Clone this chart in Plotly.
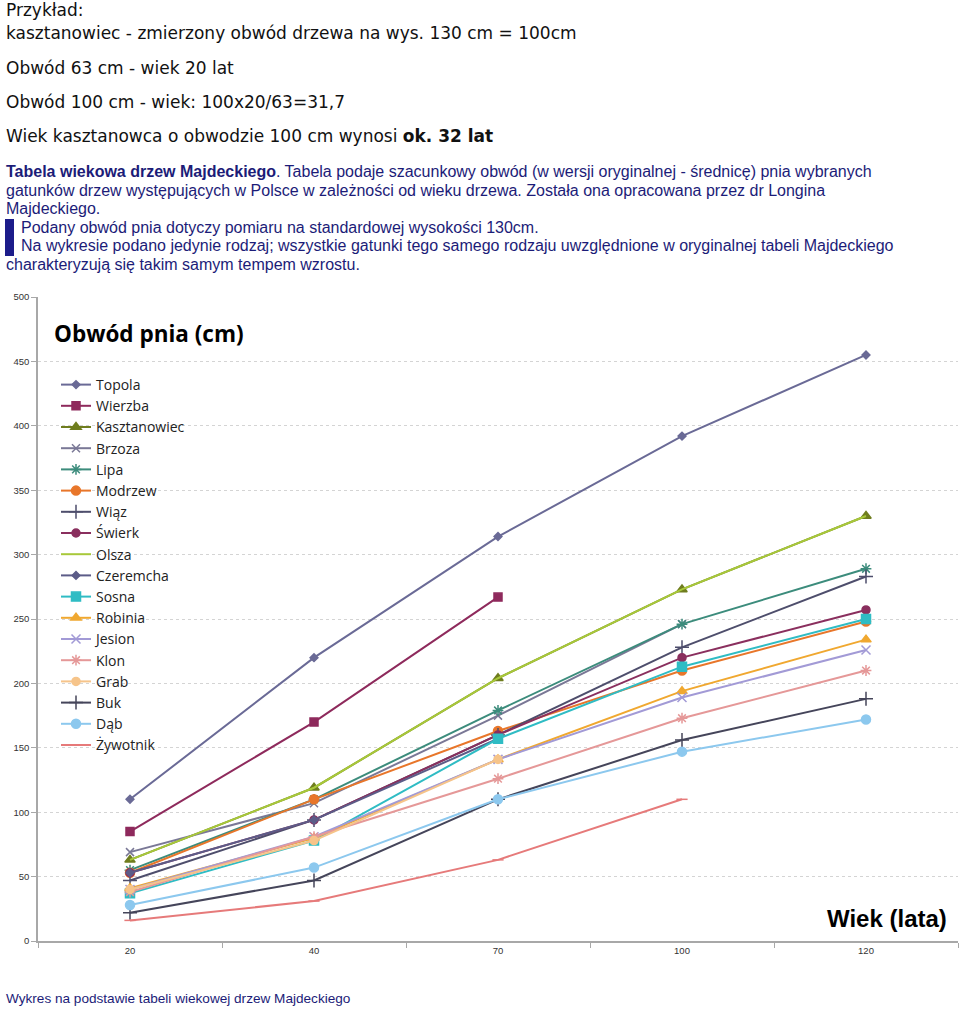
import plotly.graph_objects as go

ages = ["20", "40", "70", "100", "120"]

topola = [110, 220, 314, 392, 455]
wierzba = [85, 170, 267, None, None]
kasztanowiec = [63, 119, 204, 273, 330]
brzoza = [69, 107, 175, 246, None]
lipa = [55, 110, 179, 246, 289]
modrzew = [53, 110, 163, 210, 248]
wiaz = [47, 94, 160, 228, 283]
swierk = [53, 94, 160, 220, 257]
olsza = [63, 119, 204, 273, 330]
czeremcha = [53, 94, 157, None, None]
sosna = [37, 78, 157, 213, 250]
robinia = [41, 80, 141, 194, 234]
jesion = [40, 81, 141, 189, 226]
klon = [38, 81, 126, 173, 210]
grab = [40, 78, 141, None, None]
buk = [22, 47, 110, 156, 188]
dab = [28, 57, 110, 147, 172]
zywotnik = [16, 31, 63, 110, None]

series = [
    ("Topola", topola, "#6a6a96", "diamond", 6),
    ("Wierzba", wierzba, "#8e2a5c", "square", 8),
    ("Kasztanowiec", kasztanowiec, "#6f7d1e", "triangle-up", 9),
    ("Brzoza", brzoza, "#7a7896", "x-thin-open", 8),
    ("Lipa", lipa, "#3c8c7c", "asterisk-open", 9),
    ("Modrzew", modrzew, "#e8762a", "circle", 9),
    ("Wiąz", wiaz, "#4e4e6c", "cross-thin-open", 10),
    ("Świerk", swierk, "#8a2f5e", "circle", 8),
    ("Olsza", olsza, "#a8c83a", None, 0),
    ("Czeremcha", czeremcha, "#5c5c88", "diamond", 6),
    ("Sosna", sosna, "#2fbcc4", "square", 9),
    ("Robinia", robinia, "#f0a830", "triangle-up", 9),
    ("Jesion", jesion, "#a29ad6", "x-thin-open", 9),
    ("Klon", klon, "#e59898", "asterisk-open", 9),
    ("Grab", grab, "#f6c48a", "circle", 8),
    ("Buk", buk, "#45455a", "cross-thin-open", 10),
    ("Dąb", dab, "#8cc8ee", "circle", 9),
    ("Żywotnik", zywotnik, "#e67a7a", "line-ew-open", 8),
]

fig = go.Figure()
for name, vals, col, sym, size in series:
    if sym is None:
        mode = "lines"
        marker = dict()
    else:
        mode = "lines+markers"
        marker = dict(symbol=sym, size=size, color=col, line=dict(color=col, width=1.5))
    fig.add_trace(go.Scatter(
        x=ages, y=vals, name=name, mode=mode,
        line=dict(color=col, width=2),
        marker=marker, connectgaps=False,
    ))

L, T, R, B = 38, 297, 958, 941
W, H = 960, 1012


def px(x):
    return (x - L) / (R - L)


def py(y):
    return (B - y) / (B - T)


anns = []
black_font = dict(family="DejaVu Sans", size=17, color="#111111")
lines_black = [
    (10, "Przykład:"),
    (33, "kasztanowiec - zmierzony obwód drzewa na wys. 130 cm = 100cm"),
    (68, "Obwód 63 cm - wiek 20 lat"),
    (102, "Obwód 100 cm - wiek: 100x20/63=31,7"),
    (136, "Wiek kasztanowca o obwodzie 100 cm wynosi <b>ok. 32 lat</b>"),
]
for yy, t in lines_black:
    anns.append(dict(x=px(4), y=py(yy), xref="paper", yref="paper", text=t,
                     showarrow=False, xanchor="left", yanchor="middle", font=black_font))

blue_font = dict(family="Liberation Sans", size=16, color="#1c1c78")
lines_blue = [
    (4, 171, "<b>Tabela wiekowa drzew Majdeckiego</b>. Tabela podaje szacunkowy obwód (w wersji oryginalnej - średnicę) pnia wybranych"),
    (4, 190, "gatunków drzew występujących w Polsce w zależności od wieku drzewa. Została ona opracowana przez dr Longina"),
    (4, 209, "Majdeckiego."),
    (19, 228, "Podany obwód pnia dotyczy pomiaru na standardowej wysokości 130cm."),
    (19, 246, "Na wykresie podano jedynie rodzaj; wszystkie gatunki tego samego rodzaju uwzględnione w oryginalnej tabeli Majdeckiego"),
    (4, 265, "charakteryzują się takim samym tempem wzrostu."),
]
for xx, yy, t in lines_blue:
    anns.append(dict(x=px(xx), y=py(yy), xref="paper", yref="paper", text=t,
                     showarrow=False, xanchor="left", yanchor="middle", font=blue_font))

anns.append(dict(x=px(4), y=py(999), xref="paper", yref="paper",
                 text="Wykres na podstawie tabeli wiekowej drzew Majdeckiego",
                 showarrow=False, xanchor="left", yanchor="middle",
                 font=dict(family="Liberation Sans", size=13.6, color="#1c1c78")))

anns.append(dict(x=px(52), y=py(333), xref="paper", yref="paper",
                 text="<b>Obwód pnia (cm)</b>", showarrow=False,
                 xanchor="left", yanchor="middle",
                 font=dict(family="Open Sans", size=22.5, color="#000000")))
anns.append(dict(x=px(949), y=py(918), xref="paper", yref="paper",
                 text="<b>Wiek (lata)</b>", showarrow=False,
                 xanchor="right", yanchor="middle",
                 font=dict(family="Liberation Sans", size=24, color="#000000")))

shapes = [dict(type="rect", xref="paper", yref="paper",
               x0=px(5), x1=px(14), y0=py(256), y1=py(219),
               fillcolor="#1c1c8a", line=dict(width=0))]

tick_font = dict(family="Liberation Sans", size=9.5, color="#333333")

fig.update_layout(
    width=W, height=H,
    margin=dict(l=L, r=W - R, t=T, b=H - B),
    plot_bgcolor="white", paper_bgcolor="white",
    annotations=anns, shapes=shapes,
    showlegend=True,
    legend=dict(x=px(56), y=py(369), xanchor="left", yanchor="top",
                bgcolor="rgba(0,0,0,0)", tracegroupgap=0,
                font=dict(family="Open Sans", size=14, color="#222222")),
    xaxis=dict(type="category", categoryorder="array", categoryarray=ages,
               range=[-0.5, 4.5], showgrid=False, showline=True,
               linecolor="#a8a8a8", linewidth=1.5, ticks="outside",
               tickson="boundaries", ticklen=5, tickcolor="#a8a8a8",
               tickfont=tick_font),
    yaxis=dict(range=[0, 500], tickvals=[0, 50, 100, 150, 200, 250, 300, 350, 400, 450, 500],
               showgrid=True, gridcolor="#d4d4d4", griddash="3px,3px", gridwidth=1,
               showline=True, linecolor="#a8a8a8", linewidth=1.5,
               ticks="outside", ticklen=5, tickcolor="#a8a8a8", zeroline=False,
               tickfont=tick_font),
)

fig.write_html("out.html")
